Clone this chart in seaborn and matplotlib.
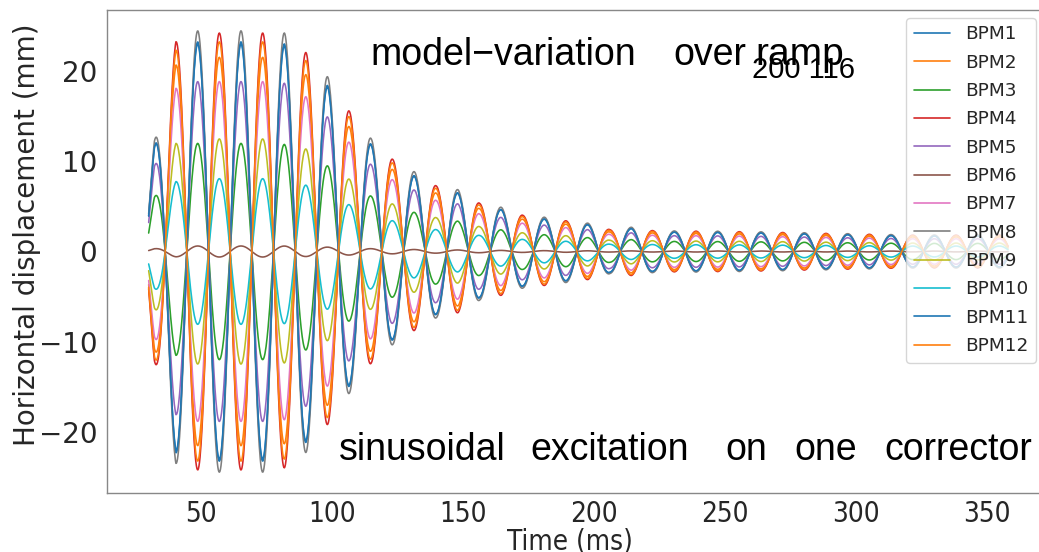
import numpy as np
import pandas as pd
import matplotlib
matplotlib.use("Agg")
import matplotlib.pyplot as plt
import seaborn as sns

# ---- data ----
BPM_NAMES = [f"BPM{i}" for i in range(1, 13)]
# relative amplitude of each BPM (fraction of the largest trace) and its phase group
BPM_RATIO = [0.95, 0.88, 0.49, 0.99, 0.77, 0.025, 0.77, 1.00, 0.51, 0.33, 0.94, 0.95]
BPM_SIGN = [1, -1, 1, -1, 1, 1, -1, 1, -1, -1, 1, -1]
PEAK_MM = 24.4                 # largest displacement (mm)
PERIOD_MS = 16.54              # excitation period read from lobe spacing
PHASE_MS = 48.7                # time of a positive peak of BPM8
# envelope (fraction of PEAK_MM) at successive lobes
ENV_T = [30.0, 32.2, 40.4, 48.7, 57.0, 65.3, 73.6, 81.9, 90.1, 98.4, 106.7, 115.0,
         123.3, 131.6, 139.8, 148.1, 156.4, 164.7, 173.0, 181.3, 189.5, 197.8,
         206.1, 214.4, 222.7, 231.0, 239.2, 260.0, 280.0, 300.0, 320.0, 340.0, 358.0]
ENV_A = [0.25, 0.50, 0.96, 1.00, 1.00, 1.00, 1.00, 0.99, 0.91, 0.79, 0.64, 0.51,
         0.42, 0.36, 0.30, 0.28, 0.22, 0.20, 0.165, 0.155, 0.14, 0.128,
         0.10, 0.11, 0.095, 0.093, 0.093, 0.09, 0.085, 0.08, 0.075, 0.075, 0.075]
T_START, T_END, T_STEP = 30.0, 358.0, 0.2
X_TICKS = [50, 100, 150, 200, 250, 300, 350]
Y_TICKS = [-20, -10, 0, 10, 20]

t = np.arange(T_START, T_END + T_STEP / 2, T_STEP)
env = np.interp(t, ENV_T, ENV_A)
carrier = np.cos(2 * np.pi * (t - PHASE_MS) / PERIOD_MS)
frames = []
for name, r, s in zip(BPM_NAMES, BPM_RATIO, BPM_SIGN):
    frames.append(pd.DataFrame({"Time": t, "x": s * r * PEAK_MM * env * carrier, "BPM": name}))
df = pd.concat(frames, ignore_index=True)

# ---- figure ----
sns.set_theme(style="white")
plt.rcParams["font.family"] = ["DejaVu Sans"]
W, H = 1039, 552
fig = plt.figure(figsize=(W / 100, H / 100), dpi=100)
ax = fig.add_axes([107 / W, 1 - 493 / H, (1050 - 107) / W, 483 / H])

palette = list(plt.get_cmap("tab10").colors)
palette = palette + palette[:2]
sns.lineplot(data=df, x="Time", y="x", hue="BPM", palette=palette, ax=ax,
             linewidth=1.15, legend=True, estimator=None, sort=False)

ax.set_xlim(14.1, 374.0)
ax.set_ylim(-26.7, 26.7)
ax.set_xticks(X_TICKS)
ax.set_yticks(Y_TICKS)
ax.set_yticklabels([str(v).replace("-", "\u2212") for v in Y_TICKS], fontsize=20)
ax.set_xticklabels([str(v) for v in X_TICKS], fontsize=20, fontstretch="condensed")
ax.tick_params(length=3, width=0.8, color="#888888", pad=4)
ax.tick_params(axis="x", pad=2)
for sp in ax.spines.values():
    sp.set_color("#888888")
    sp.set_linewidth(1.0)

ax.set_xlabel("Time (ms)", fontsize=20, fontstretch="condensed")
ax.xaxis.set_label_coords(0.491, -0.072)
ax.set_ylabel("Horizontal displacement (mm)", fontsize=20)
ax.yaxis.set_label_coords(-0.070, 0.534)

leg = ax.legend(loc="upper right", bbox_to_anchor=(1036 / W, 1 - 18 / H),
                bbox_transform=fig.transFigure, borderaxespad=0, fontsize=13.3,
                labelspacing=0.56, handlelength=2.0, frameon=True, framealpha=0.8)
for line in leg.get_lines():
    line.set_linewidth(1.2)

tf = dict(family=["Liberation Sans", "DejaVu Sans"], color="black")
fig.text(370 / W, 1 - 65 / H, "model\u2212variation", fontsize=27, va="baseline", **tf)
fig.text(673 / W, 1 - 65 / H, "over", fontsize=27, va="baseline", **tf)
fig.text(755 / W, 1 - 65 / H, "ramp", fontsize=28, va="baseline", **tf)
fig.text(752 / W, 1 - 78 / H, "200 116", fontsize=21, va="baseline", **tf)
for word, x in [("sinusoidal", 339), ("excitation", 530), ("on", 725), ("one", 794), ("corrector", 884)]:
    fig.text(x / W, 1 - 460 / H, word, fontsize=27, va="baseline", **tf)

fig.savefig("out.png", dpi=100)
